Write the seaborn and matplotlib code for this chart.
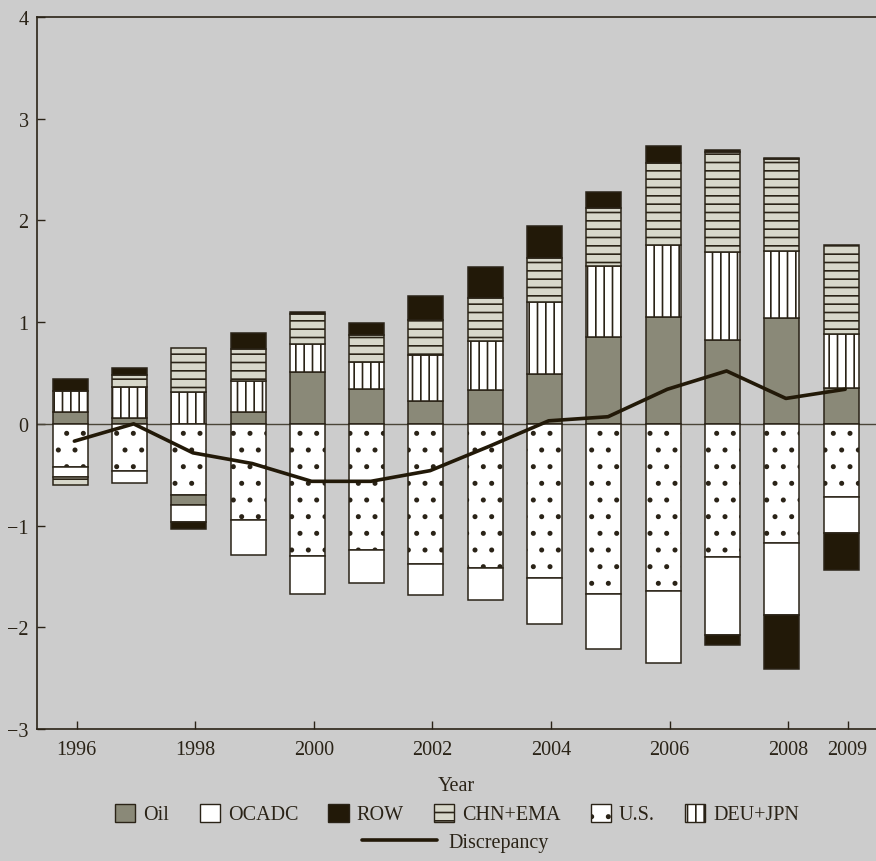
import matplotlib
matplotlib.use("Agg")
import numpy as np
import pandas as pd
import matplotlib.pyplot as plt
from matplotlib.patches import Patch
from matplotlib.lines import Line2D
import seaborn as sns

# --- data ---
years = np.arange(1996, 2010)

# positive side, stacked from zero upwards
oil_pos = [0.12, 0.055, 0.0, 0.12, 0.51, 0.34, 0.22, 0.33, 0.49, 0.85, 1.05, 0.82, 1.04, 0.35]
deu_jpn = [0.20, 0.305, 0.31, 0.305, 0.28, 0.27, 0.46, 0.48, 0.71, 0.70, 0.71, 0.87, 0.66, 0.53]
chn_ema_pos = [0.0, 0.12, 0.44, 0.315, 0.29, 0.26, 0.345, 0.43, 0.435, 0.57, 0.80, 0.985, 0.90, 0.88]
row_pos = [0.12, 0.07, 0.0, 0.15, 0.02, 0.12, 0.23, 0.30, 0.31, 0.16, 0.17, 0.015, 0.01, 0.0]

# negative side, stacked from zero downwards
us = [-0.42, -0.465, -0.70, -0.95, -1.30, -1.245, -1.38, -1.42, -1.52, -1.67, -1.64, -1.31, -1.17, -0.72]
oil_neg = [0.0, 0.0, -0.10, 0.0, 0.0, 0.0, 0.0, 0.0, 0.0, 0.0, 0.0, 0.0, 0.0, 0.0]
ocadc = [-0.10, -0.115, -0.16, -0.34, -0.37, -0.315, -0.30, -0.31, -0.45, -0.545, -0.71, -0.77, -0.71, -0.35]
chn_ema_neg = [-0.08, 0.0, 0.0, 0.0, 0.0, 0.0, 0.0, 0.0, 0.0, 0.0, 0.0, 0.0, 0.0, 0.0]
row_neg = [0.0, 0.0, -0.07, 0.0, 0.0, 0.0, 0.0, 0.0, 0.0, 0.0, 0.0, -0.09, -0.53, -0.37]

discrepancy = [-0.17, 0.0, -0.285, -0.39, -0.565, -0.565, -0.46, -0.22, 0.03, 0.07, 0.34, 0.52, 0.25, 0.34]

tick_years = [1996, 1998, 2000, 2002, 2004, 2006, 2008, 2009]

# --- style ---
BG = "#cccccc"
INK = "#2a2317"
C_OIL = "#8a8978"
C_CHN = "#d7d7ca"
C_ROW = "#221908"
WHITE = "#ffffff"
FS = 14.5

sns.set_theme(style="ticks")
plt.rcParams["font.family"] = ["Liberation Serif", "DejaVu Serif"]
plt.rcParams.update({
    "font.size": FS,
    "xtick.labelsize": FS,
    "ytick.labelsize": FS,
    "axes.labelsize": FS,
    "legend.fontsize": FS,
    "hatch.linewidth": 1.2,
    "axes.unicode_minus": True,
})

fig = plt.figure(figsize=(8.76, 8.62), dpi=100, facecolor=BG)
ax = fig.add_axes([37 / 876, 132 / 862, 839 / 876, 712 / 862])
ax.set_facecolor(BG)

# series styling: (values, face, hatch)
pos_series = [
    (oil_pos, C_OIL, None),
    (deu_jpn, WHITE, "||"),
    (chn_ema_pos, C_CHN, "--"),
    (row_pos, C_ROW, None),
]
neg_series = [
    (us, WHITE, "."),
    (oil_neg, C_OIL, None),
    (ocadc, WHITE, None),
    (chn_ema_neg, C_CHN, "--"),
    (row_neg, C_ROW, None),
]

bar_x = years - 0.11
width = 0.59


def stack(series_list):
    base = np.zeros(len(years))
    for vals, face, hatch in series_list:
        vals = np.asarray(vals, dtype=float)
        keep = vals != 0
        ax.bar(bar_x[keep], vals[keep], width=width, bottom=base[keep],
               color=face, edgecolor=INK, linewidth=1.1, hatch=hatch, zorder=3)
        base = base + vals


ax.axhline(0, color="#4a4538", lw=1.0, zorder=2)
stack(pos_series)
stack(neg_series)

df_line = pd.DataFrame({"Year": years - 0.04, "Discrepancy": discrepancy})
sns.lineplot(data=df_line, x="Year", y="Discrepancy", color=C_ROW, lw=2.6,
             ax=ax, zorder=5, legend=False)

# axes cosmetics
ax.set_xlim(1995.33, 2009.48)
ax.set_ylim(-3, 4)
ax.set_yticks(range(-3, 5))
ax.set_xticks(tick_years)
ax.set_xticklabels([str(y) for y in tick_years])
ax.tick_params(direction="in", length=6, width=1.0, colors=INK, labelcolor=INK)
ax.tick_params(axis="x", pad=8)
ax.tick_params(axis="y", pad=6)
for side in ["left", "bottom", "top"]:
    ax.spines[side].set_color(INK)
    ax.spines[side].set_linewidth(1.2)
ax.spines["right"].set_visible(False)
ax.set_xlabel("Year", color=INK, labelpad=12)
ax.set_ylabel("")

# legends
handles = [
    Patch(facecolor=C_OIL, edgecolor=INK, label="Oil"),
    Patch(facecolor=WHITE, edgecolor=INK, label="OCADC"),
    Patch(facecolor=C_ROW, edgecolor=INK, label="ROW"),
    Patch(facecolor=C_CHN, edgecolor=INK, hatch="--", label="CHN+EMA"),
    Patch(facecolor=WHITE, edgecolor=INK, hatch=".", label="U.S."),
    Patch(facecolor=WHITE, edgecolor=INK, hatch="||", label="DEU+JPN"),
]
fig.legend(handles=handles, loc="center", bbox_to_anchor=(0.522, 0.0545),
           ncol=6, frameon=False, handlelength=1.0, handleheight=1.0,
           handletextpad=0.4, columnspacing=1.5, labelcolor=INK)
fig.legend(handles=[Line2D([], [], color=C_ROW, lw=2.6, label="Discrepancy")],
           loc="center", bbox_to_anchor=(0.52, 0.021), frameon=False,
           handlelength=3.7, handletextpad=0.6, labelcolor=INK)

fig.savefig("out.png", dpi=100, facecolor=BG)
